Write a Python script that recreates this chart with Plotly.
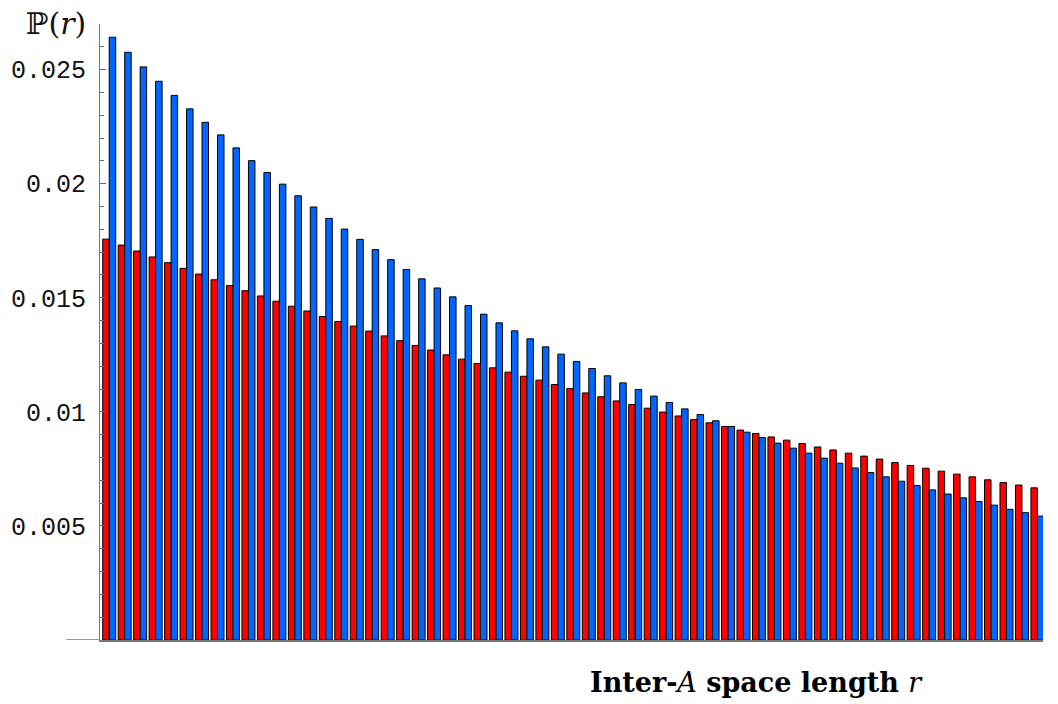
import plotly.graph_objects as go

r_values = list(range(1, 62))

red_probs = [
    0.01757, 0.01731, 0.01705, 0.01679, 0.01654, 0.01629, 0.01604, 0.01579, 0.01554, 0.01531,
    0.01508, 0.01485, 0.01463, 0.01442, 0.01418, 0.01396, 0.01376, 0.01354, 0.01333, 0.01312,
    0.01291, 0.01271, 0.01250, 0.01231, 0.01212, 0.01193, 0.01174, 0.01156, 0.01139, 0.01120,
    0.01102, 0.01083, 0.01066, 0.01048, 0.01032, 0.01016, 0.00999, 0.00982, 0.00966, 0.00952,
    0.00936, 0.00920, 0.00905, 0.00890, 0.00876, 0.00861, 0.00846, 0.00833, 0.00819, 0.00806,
    0.00793, 0.00778, 0.00765, 0.00753, 0.00740, 0.00727, 0.00715, 0.00702, 0.00690, 0.00679,
    0.00667,
]

blue_probs = [
    0.02642, 0.02576, 0.02512, 0.02449, 0.02387, 0.02328, 0.02269, 0.02214, 0.02157, 0.02101,
    0.02049, 0.01998, 0.01947, 0.01898, 0.01848, 0.01801, 0.01756, 0.01711, 0.01667, 0.01624,
    0.01583, 0.01543, 0.01504, 0.01466, 0.01428, 0.01390, 0.01355, 0.01320, 0.01285, 0.01253,
    0.01221, 0.01190, 0.01158, 0.01127, 0.01098, 0.01069, 0.01041, 0.01013, 0.00988, 0.00961,
    0.00936, 0.00911, 0.00887, 0.00863, 0.00841, 0.00819, 0.00797, 0.00775, 0.00754, 0.00734,
    0.00715, 0.00696, 0.00677, 0.00658, 0.00640, 0.00623, 0.00607, 0.00591, 0.00573, 0.00558,
    0.00543,
]

y_tick_vals = [0.005, 0.01, 0.015, 0.02, 0.025]
y_tick_text = ["0.005", "0.01", "0.015", "0.02", "0.025"]

RED = "#FF0000"
BLUE = "#0066FF"

fig = go.Figure()
fig.add_trace(go.Bar(x=r_values, y=red_probs, marker=dict(color=RED, line=dict(color="black", width=1)),
                     showlegend=False, hoverinfo="skip"))
fig.add_trace(go.Bar(x=r_values, y=blue_probs, marker=dict(color=BLUE, line=dict(color="black", width=1)),
                     showlegend=False, hoverinfo="skip"))

fig.update_layout(
    width=1058, height=704,
    margin=dict(l=100, r=15, t=24, b=64),
    paper_bgcolor="white", plot_bgcolor="white",
    barmode="group", bargap=0.16, bargroupgap=0.0,
    xaxis=dict(range=[0.405, 61.36], showticklabels=False, ticks="", showgrid=False, zeroline=False,
               showline=True, linecolor="#777777", linewidth=1.5),
    yaxis=dict(range=[0, 0.027], tickvals=y_tick_vals, ticktext=y_tick_text, ticks="inside", ticklen=6,
               tickcolor="#666666", showgrid=False, zeroline=False, showline=True, linecolor="#777777",
               linewidth=1, ticklabelstandoff=8,
               tickfont=dict(family="Liberation Mono", size=25, color="#111111"),
               minor=dict(dtick=0.001, tick0=0, ticks="inside", ticklen=4, tickcolor="#666666")),
    shapes=[dict(type="line", xref="paper", yref="y", x0=-0.036, x1=0, y0=0, y1=0,
                 line=dict(color="#777777", width=1.5))],
    annotations=[
        dict(text="\u2119(<i>r</i>)", xref="paper", yref="paper", x=-0.013, y=1.0, xanchor="right",
             yanchor="middle", yshift=1, showarrow=False,
             font=dict(family="DejaVu Serif", size=30, color="#111111")),
        dict(text="<b>Inter-</b><i>A</i><b> space length </b><i>r</i>", xref="paper", yref="paper",
             x=(756 - 100) / 943, y=0, xanchor="center", yanchor="middle", yshift=-42, showarrow=False,
             font=dict(family="DejaVu Serif", size=27, color="black")),
    ],
)

fig.write_html("out.html", config={"displayModeBar": False},
               post_script="document.body.style.margin='0';")
